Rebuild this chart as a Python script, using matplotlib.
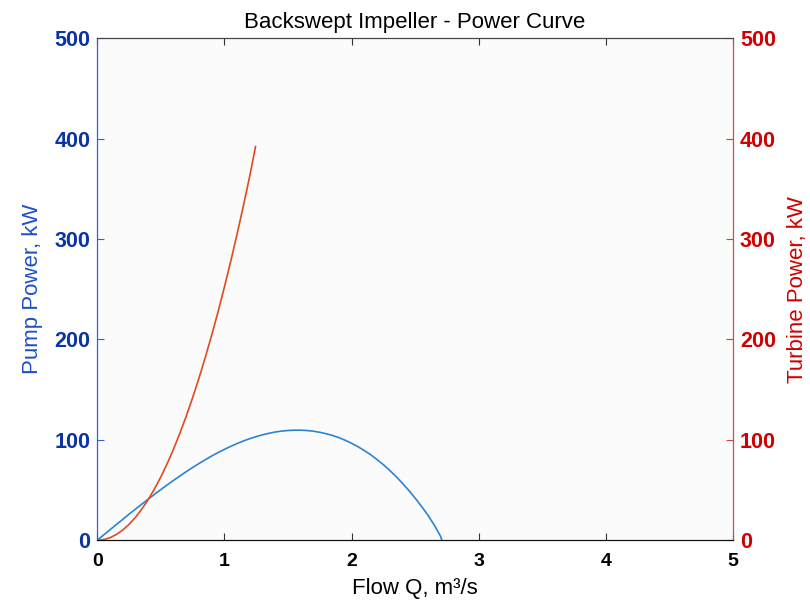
import numpy as np
import matplotlib
matplotlib.use('Agg')
import matplotlib.pyplot as plt

plt.rcParams['font.family'] = ['Liberation Sans', 'DejaVu Sans']

# pump power curve
q_pump = [0.0, 0.05, 0.1, 0.15, 0.2, 0.25, 0.3, 0.35, 0.4, 0.45, 0.5, 0.55,
          0.6, 0.65, 0.7, 0.75, 0.8, 0.85, 0.9, 0.95, 1.0, 1.05, 1.1, 1.15,
          1.2, 1.25, 1.3, 1.35, 1.4, 1.45, 1.5, 1.55, 1.6, 1.65, 1.7, 1.75,
          1.8, 1.85, 1.9, 1.95, 2.0, 2.05, 2.1, 2.15, 2.2, 2.25, 2.3, 2.35,
          2.4, 2.45, 2.5, 2.55, 2.6, 2.65, 2.7, 2.71]
p_pump = [0.0, 5.2, 10.4, 15.6, 20.7, 25.9, 30.9, 35.9, 40.8, 45.7, 50.4, 55.1,
          59.6, 64.0, 68.3, 72.4, 76.4, 80.2, 83.9, 87.3, 90.5, 93.5, 96.3, 98.9,
          101.2, 103.2, 105.0, 106.5, 107.8, 108.7, 109.3, 109.6, 109.6, 109.3,
          108.6, 107.5, 106.1, 104.4, 102.2, 99.6, 96.6, 93.2, 89.4, 85.2,
          80.4, 75.3, 69.6, 63.5, 56.8, 49.7, 42.0, 33.8, 25.1, 15.2, 4.0, 0.0]

# turbine power curve
q_turb = [0.0, 0.05, 0.1, 0.15, 0.2, 0.25, 0.3, 0.35, 0.4, 0.45, 0.5, 0.55,
          0.6, 0.65, 0.7, 0.75, 0.8, 0.85, 0.9, 0.95, 1.0, 1.05, 1.1, 1.15,
          1.2, 1.245]
p_turb = [0.0, 0.6, 2.5, 5.7, 10.1, 15.8, 22.7, 30.9, 40.3, 51.0, 63.0, 76.2,
          90.7, 106.5, 123.5, 141.8, 161.3, 182.1, 204.1, 227.4, 252.0, 277.8,
          304.9, 333.3, 362.9, 392.0]

blue_txt = '#0a34a6'
red_txt = '#d00000'

fig = plt.figure(figsize=(8.1, 6.05), dpi=100)
ax = fig.add_axes([0.12, 0.107, 0.785, 0.83])
ax.set_facecolor('#fbfbfb')
ax2 = ax.twinx()

ax.plot(q_pump, p_pump, color='#2b84d2', lw=1.2)
ax2.plot(q_turb, p_turb, color='#e04a20', lw=1.2)

ax.set_xlim(0, 5)
ax.set_ylim(0, 500)
ax2.set_ylim(0, 500)
ax.set_xticks([0, 1, 2, 3, 4, 5])
ax.set_yticks([0, 100, 200, 300, 400, 500])
ax2.set_yticks([0, 100, 200, 300, 400, 500])

ax.tick_params(axis='x', direction='in', length=5, top=True, labelsize=14,
               pad=9, color='#333333', labelcolor='black')
ax.tick_params(axis='y', direction='in', length=5, labelsize=15.5, pad=5,
               color='#3366cc', labelcolor=blue_txt)
ax2.tick_params(axis='y', direction='in', length=5, labelsize=15.5, pad=5,
                color='#d44040', labelcolor=red_txt)
for lab in ax.get_yticklabels() + ax2.get_yticklabels() + ax.get_xticklabels():
    lab.set_fontweight('bold')

for a in (ax, ax2):
    a.spines['left'].set_color('#2f5fd0')
    a.spines['right'].set_color('#d44a4a')
    a.spines['top'].set_color('#444444')
    a.spines['bottom'].set_color('#111111')

ax.set_xlabel('Flow Q, m³/s', fontsize=16, labelpad=6)
ax.set_ylabel('Pump Power, kW', fontsize=16, color='#1f4fc8', labelpad=8)
ax2.set_ylabel('Turbine Power, kW', fontsize=16, color=red_txt, labelpad=8)
ax.set_title('Backswept Impeller - Power Curve', fontsize=16, pad=7)

fig.savefig('out.png', dpi=100)
